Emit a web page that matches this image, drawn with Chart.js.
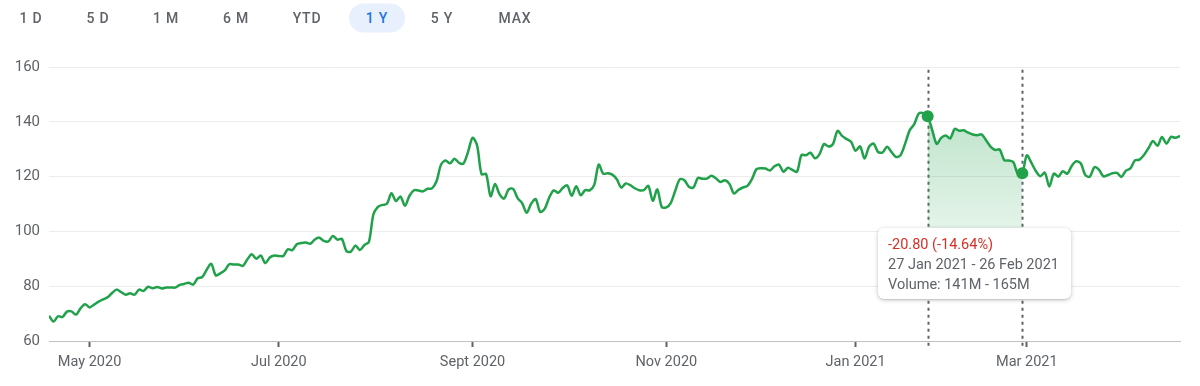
<!DOCTYPE html>
<html>
<head>
<meta charset="utf-8">
<script src="https://cdn.jsdelivr.net/npm/chart.js@4.4.1/dist/chart.umd.min.js"></script>
<style>
  html, body { margin: 0; padding: 0; background: #fff; }
  body { width: 1200px; height: 386px; position: relative; overflow: hidden; font-family: Roboto, Arial, sans-serif; }
  #wrap { position: absolute; left: 0; top: 0; width: 1200px; height: 386px; }
  .range span {
    position: absolute; top: 18px; transform: translate(-50%, -50%);
    font-size: 14px; font-weight: 500; letter-spacing: 0.8px; color: #5f6368; white-space: nowrap;
  }
  .range span.active {
    background: #e8f0fe; color: #1a73e8; border-radius: 15px;
    width: 56px; height: 29px; line-height: 29px; text-align: center;
  }
  #tip {
    position: absolute; left: 878px; top: 228px; width: 173px;
    padding: 7px 10px 4px 10px; background: #fff; border-radius: 6px;
    box-shadow: 0 1px 4px rgba(60, 64, 67, 0.30), 0 1px 1px rgba(60, 64, 67, 0.12);
    font-size: 14.5px; line-height: 20px; color: #5f6368; white-space: nowrap;
  }
  #tip .chg { color: #d93025; }
</style>
</head>
<body>
<div id="wrap"><canvas id="chart"></canvas></div>
<div class="range" id="range"></div>
<div id="tip">
  <div class="chg">-20.80 (-14.64%)</div>
  <div>27 Jan 2021 - 26 Feb 2021</div>
  <div>Volume: 141M - 165M</div>
</div>
<script>
// range buttons across the top
const rangeLabels = ['1 D', '5 D', '1 M', '6 M', 'YTD', '1 Y', '5 Y', 'MAX'];
const rangeCenters = [31, 98, 166, 236, 307, 377, 442, 515];
const activeRange = '1 Y';

// daily closes, one per trading day (Apr 2020 .. Apr 2021)
const closesApr2020 = [69.23, 67.09, 69.03, 68.76, 70.74, 70.79, 69.64, 71.93, 73.45];
const closesMay2020 = [72.27, 73.29, 74.39, 75.16, 75.93, 77.53, 78.75, 77.85, 76.91, 77.39,
  76.93, 78.74, 78.29, 79.81, 79.21, 79.72, 79.18, 79.53, 79.56, 79.49];
const closesJun2020 = [80.46, 80.83, 81.28, 80.58, 82.88, 83.36, 85.99, 88.21, 83.97, 84.70,
  85.75, 88.02, 87.90, 87.93, 87.43, 89.72, 91.63, 90.01, 91.21, 88.41, 90.45, 91.20];
const closesJul2020 = [91.03, 91.03, 93.46, 93.17, 95.34, 95.75, 95.92, 95.48, 97.06, 97.72,
  96.52, 96.33, 98.36, 97.00, 97.27, 92.85, 92.62, 94.81, 93.25, 95.04, 96.19, 106.26];
const closesAug2020 = [108.94, 109.67, 110.06, 113.90, 111.11, 112.73, 109.38, 113.01, 115.01, 114.91,
  114.61, 115.56, 115.71, 118.28, 124.37, 125.86, 124.83, 126.52, 125.01, 124.81, 129.04];
const closesSep2020 = [134.18, 131.40, 120.88, 120.96, 112.82, 117.32, 113.49, 112.00, 115.36, 115.54,
  112.13, 110.34, 106.84, 110.08, 111.81, 107.12, 108.22, 112.28, 114.96, 114.09, 115.81];
const closesOct2020 = [116.79, 113.02, 116.50, 113.16, 115.08, 114.97, 116.97, 124.40, 121.10, 121.19,
  120.71, 119.02, 115.98, 117.51, 116.87, 115.75, 115.04, 115.05, 116.60, 111.20, 115.32, 108.86];
const closesNov2020 = [108.77, 110.44, 114.95, 119.03, 118.69, 116.32, 115.97, 119.49, 119.21, 119.26,
  120.30, 119.39, 118.03, 118.64, 117.34, 113.85, 115.17, 116.03, 116.59, 119.05];
const closesDec2020 = [122.72, 123.08, 122.94, 122.25, 123.75, 124.38, 121.78, 123.24, 122.41, 121.78,
  127.88, 127.81, 128.70, 126.66, 128.23, 131.88, 130.96, 131.97, 136.69, 134.87, 133.72, 132.69];
const closesJan2021 = [129.41, 131.01, 126.60, 130.92, 132.05, 128.98, 128.80, 130.89, 128.91, 127.14,
  127.83, 132.03, 136.87, 139.07, 142.92, 143.16, 142.06, 137.09, 131.96];
const closesFeb2021 = [134.14, 134.99, 133.94, 137.39, 136.76, 136.91, 136.01, 135.39, 135.13, 135.37,
  133.19, 130.84, 129.71, 129.87, 126.00, 125.86, 125.35, 120.99, 121.26];
const closesMar2021 = [127.79, 125.12, 122.06, 120.13, 121.42, 116.36, 121.09, 119.98, 121.96, 121.03,
  123.99, 125.57, 124.76, 120.53, 119.99, 123.39, 122.54, 120.09, 120.59, 121.21, 121.39, 119.90, 122.15];
const closesApr2021 = [123.00, 125.90, 126.21, 127.90, 130.36, 133.00, 131.24, 134.43, 132.03, 134.50,
  134.16, 134.84];

// x axis labels sit on the first trading day of each month
const tickIndex = [9, 51, 94, 137, 179, 217];
const tickLabels = ['May 2020', 'Jul 2020', 'Sept 2020', 'Nov 2020', 'Jan 2021', 'Mar 2021'];

// selected span: 27 Jan 2021 -> 26 Feb 2021
const selStart = 195;
const selEnd = 216;

const yTicks = [60, 80, 100, 120, 140, 160];

const closes = [].concat(closesApr2020, closesMay2020, closesJun2020, closesJul2020, closesAug2020,
  closesSep2020, closesOct2020, closesNov2020, closesDec2020, closesJan2021, closesFeb2021,
  closesMar2021, closesApr2021);

const LINE = '#22a14b';
const TEXT = '#5f6368';

// build buttons
const rangeEl = document.getElementById('range');
rangeLabels.forEach((t, i) => {
  const s = document.createElement('span');
  s.textContent = t;
  s.style.left = rangeCenters[i] + 'px';
  if (t === activeRange) s.className = 'active';
  rangeEl.appendChild(s);
});

Chart.defaults.font.family = 'Roboto, Arial, sans-serif';

const selectionLines = {
  id: 'selectionLines',
  beforeDatasetsDraw(chart) {
    const { ctx, scales: { x, y } } = chart;
    ctx.save();
    ctx.strokeStyle = '#5f6368';
    ctx.lineWidth = 2;
    ctx.setLineDash([3, 4]);
    [selStart, selEnd].forEach(i => {
      const px = Math.round(x.getPixelForValue(i)) + 0.5;
      ctx.beginPath();
      ctx.moveTo(px, y.getPixelForValue(159));
      ctx.lineTo(px, y.getPixelForValue(60) + 5);
      ctx.stroke();
    });
    ctx.restore();
  }
};

const ctx = document.getElementById('chart').getContext('2d');
new Chart(ctx, {
  type: 'line',
  data: {
    datasets: [
      {
        data: closes.map((v, i) => ({ x: i, y: v })),
        borderColor: LINE,
        borderWidth: 2.5,
        tension: 0.3,
        fill: false,
        pointRadius: c => (c.dataIndex === selStart || c.dataIndex === selEnd) ? 6 : 0,
        pointBackgroundColor: LINE,
        pointBorderWidth: 0,
        order: 1
      },
      {
        data: closes.map((v, i) => ({ x: i, y: (i >= selStart && i <= selEnd) ? v : null })),
        borderWidth: 0,
        pointRadius: 0,
        tension: 0.3,
        fill: 'start',
        backgroundColor: c => {
          const area = c.chart.chartArea;
          if (!area) return 'rgba(34,161,75,0.2)';
          const g = c.chart.ctx.createLinearGradient(0, area.top + 40, 0, area.bottom);
          g.addColorStop(0, 'rgba(34,161,75,0.30)');
          g.addColorStop(0.72, 'rgba(34,161,75,0.05)');
          g.addColorStop(0.82, 'rgba(34,161,75,0.0)');
          g.addColorStop(1, 'rgba(34,161,75,0.0)');
          return g;
        },
        order: 2
      }
    ]
  },
  options: {
    responsive: true,
    maintainAspectRatio: false,
    animation: false,
    layout: { padding: { top: 67, right: 20, left: 0, bottom: 0 } },
    plugins: { legend: { display: false }, tooltip: { enabled: false } },
    scales: {
      x: {
        type: 'linear',
        min: 0,
        max: closes.length - 1,
        afterBuildTicks: s => { s.ticks = tickIndex.map(v => ({ value: v })); },
        afterFit: s => { s.height = 45; },
        ticks: {
          autoSkip: false,
          maxRotation: 0,
          color: TEXT,
          font: { size: 14.5 },
          padding: 7,
          callback: v => tickLabels[tickIndex.indexOf(v)]
        },
        grid: { drawOnChartArea: false, drawTicks: true, tickLength: 6, tickColor: '#5f6368', tickWidth: 2 },
        border: { color: '#bdc1c6', width: 1 }
      },
      y: {
        min: 60,
        max: 160,
        afterBuildTicks: s => { s.ticks = yTicks.map(v => ({ value: v })); },
        afterFit: s => { s.width = 49; },
        ticks: { color: TEXT, font: { size: 15 }, padding: 9 },
        grid: { color: '#ececec', drawTicks: false },
        border: { display: false }
      }
    }
  },
  plugins: [selectionLines]
});
</script>
</body>
</html>
